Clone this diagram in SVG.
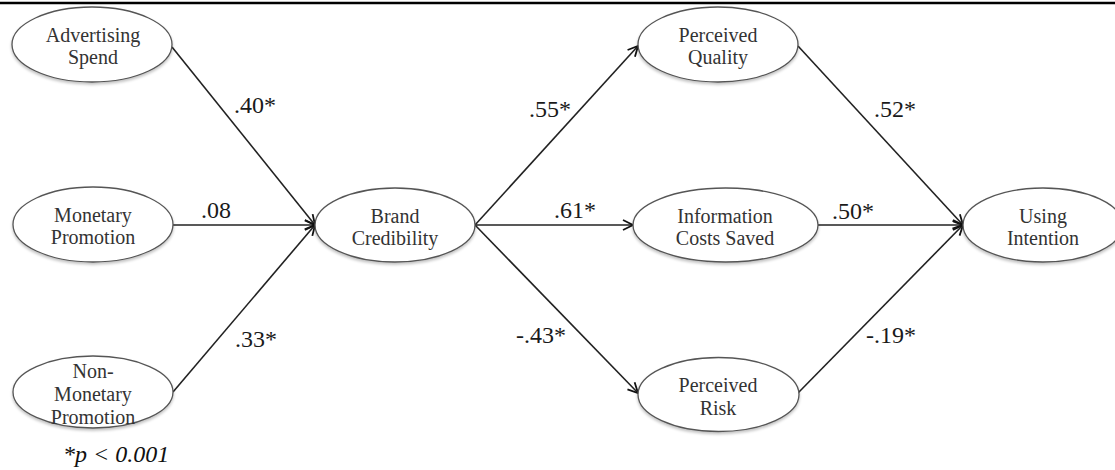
<svg xmlns="http://www.w3.org/2000/svg" width="1115" height="470" viewBox="0 0 1115 470">
<defs>
<marker id="arr" viewBox="0 0 12 12" refX="11" refY="6" markerWidth="12" markerHeight="12" markerUnits="userSpaceOnUse" orient="auto">
<path d="M1,1 L11,6 L1,11" fill="none" stroke="#111" stroke-width="1.8"/>
</marker>
<filter id="sh" x="-10%" y="-10%" width="120%" height="130%">
<feGaussianBlur in="SourceAlpha" stdDeviation="1.5"/>
<feOffset dy="2" result="b"/>
<feComponentTransfer><feFuncA type="linear" slope="0.25"/></feComponentTransfer>
<feMerge><feMergeNode/><feMergeNode in="SourceGraphic"/></feMerge>
</filter>
</defs>
<style>
.node ellipse{fill:#fff;stroke:#555;stroke-width:1.3;}
.nt{font-family:"Liberation Serif","Times New Roman",serif;font-size:20px;fill:#333;text-anchor:middle;}
.lbl{font-family:"Liberation Serif","Times New Roman",serif;font-size:24px;fill:#1a1a1a;}
.edge{stroke:#222;stroke-width:1.6;fill:none;marker-end:url(#arr);}
.plain{stroke:#222;stroke-width:1.6;fill:none;}
</style>
<rect width="1115" height="470" fill="#fff"/>
<line x1="0" y1="3" x2="1115" y2="3" stroke="#000" stroke-width="2.5"/>
<g id="connectors">
<line class="edge" x1="172" y1="47" x2="315" y2="225"/>
<line class="edge" x1="173" y1="225" x2="315" y2="225"/>
<line class="edge" x1="173" y1="392" x2="315" y2="225"/>
<line class="edge" x1="475" y1="225" x2="638" y2="46"/>
<line class="edge" x1="475" y1="225" x2="633" y2="225"/>
<line class="edge" x1="475" y1="225" x2="638" y2="393"/>
<line class="edge" x1="798" y1="46" x2="963" y2="225"/>
<line class="edge" x1="818" y1="225" x2="963" y2="225"/>
<line class="edge" x1="798" y1="393" x2="963" y2="225"/>
</g>
<g id="labels">
<text class="lbl" x="234" y="113">.40*</text>
<text class="lbl" x="201" y="218">.08</text>
<text class="lbl" x="235" y="347">.33*</text>
<text class="lbl" x="529" y="117">.55*</text>
<text class="lbl" x="554" y="218">.61*</text>
<text class="lbl" x="516" y="343">-.43*</text>
<text class="lbl" x="874" y="117">.52*</text>
<text class="lbl" x="832" y="219">.50*</text>
<text class="lbl" x="866" y="343">-.19*</text>
</g>
<g id="advertising-spend" class="node">
<ellipse cx="92" cy="44.5" rx="80" ry="37.5" filter="url(#sh)"/>
<text class="nt" x="93" y="42">Advertising</text>
<text class="nt" x="93" y="63.5">Spend</text>
</g>
<g id="monetary-promotion" class="node">
<ellipse cx="93" cy="224.5" rx="80" ry="37.5" filter="url(#sh)"/>
<text class="nt" x="93" y="222">Monetary</text>
<text class="nt" x="93" y="244">Promotion</text>
</g>
<g id="non-monetary-promotion" class="node">
<ellipse cx="93" cy="392" rx="80" ry="36" filter="url(#sh)"/>
<text class="nt" x="93" y="378">Non-</text>
<text class="nt" x="93" y="401">Monetary</text>
<text class="nt" x="93" y="424">Promotion</text>
</g>
<g id="brand-credibility" class="node">
<ellipse cx="395" cy="225" rx="80" ry="37" filter="url(#sh)"/>
<text class="nt" x="395" y="222.5">Brand</text>
<text class="nt" x="395" y="245">Credibility</text>
</g>
<g id="perceived-quality" class="node">
<ellipse cx="718" cy="44.5" rx="80" ry="37.5" filter="url(#sh)"/>
<text class="nt" x="718" y="42">Perceived</text>
<text class="nt" x="718" y="63.5">Quality</text>
</g>
<g id="information-costs-saved" class="node">
<ellipse cx="725.5" cy="225" rx="92.5" ry="37" filter="url(#sh)"/>
<text class="nt" x="725" y="222.5">Information</text>
<text class="nt" x="725" y="245">Costs Saved</text>
</g>
<g id="perceived-risk" class="node">
<ellipse cx="718.5" cy="394.5" rx="80.5" ry="37" filter="url(#sh)"/>
<text class="nt" x="718" y="392">Perceived</text>
<text class="nt" x="718" y="414.5">Risk</text>
</g>
<g id="using-intention" class="node">
<ellipse cx="1043" cy="225" rx="80" ry="37" filter="url(#sh)"/>
<text class="nt" x="1043" y="222.5">Using</text>
<text class="nt" x="1043" y="245">Intention</text>
</g>
<text x="63" y="462" font-family="'Liberation Serif','Times New Roman',serif" font-size="24" font-style="italic" fill="#111">*p &lt; 0.001</text>
</svg>
